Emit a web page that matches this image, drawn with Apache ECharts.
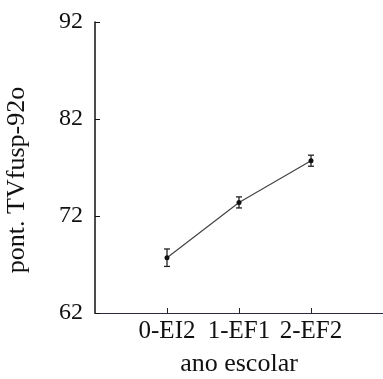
<!DOCTYPE html>
<html>
<head>
<meta charset="utf-8">
<script src="https://cdn.jsdelivr.net/npm/echarts@6/dist/echarts.min.js"></script>
<style>html,body{margin:0;padding:0;background:#fff}#main{width:383px;height:379px}</style>
</head>
<body>
<div id="main"></div>
<script>
// dados
var anos = ['0-EI2', '1-EF1', '2-EF2'];
var medias = [67.7, 73.4, 77.7];
var erros = [0.9, 0.57, 0.57];

var fonte = 'Liberation Serif';
var pontos = medias.map(function (v, i) { return [i, v]; });
var barras = medias.map(function (v, i) { return [i, v - erros[i], v + erros[i]]; });

var myChart = echarts.init(document.getElementById('main'));
var option = {
    animation: false,
    grid: { left: 95, right: 0, top: 22, bottom: 66, outerBoundsMode: 'none' },
    xAxis: {
        type: 'value',
        min: -1, max: 3, interval: 1,
        name: 'ano escolar',
        nameLocation: 'middle',
        nameGap: 38,
        nameTextStyle: { fontFamily: fonte, fontSize: 26, color: '#111' },
        splitLine: { show: false },
        axisLine: { onZero: false, lineStyle: { color: '#2a2a44', width: 1.2 } },
        axisTick: { inside: true, length: 5, customValues: [0, 1, 2], lineStyle: { color: '#222' } },
        axisLabel: {
            customValues: [0, 1, 2],
            margin: 6,
            fontFamily: fonte, fontSize: 25, color: '#111',
            formatter: function (v) { return anos[v] || ''; }
        }
    },
    yAxis: {
        type: 'value',
        min: 62, max: 92, interval: 10,
        name: 'pont. TVfusp-92o',
        nameLocation: 'middle',
        nameGap: 65,
        nameTextStyle: { fontFamily: fonte, fontSize: 26, color: '#111', padding: [0, 0, 0, -25] },
        splitLine: { show: false },
        axisLine: { show: true, onZero: false, lineStyle: { color: '#111', width: 1.5 } },
        axisTick: { inside: true, length: 5, lineStyle: { color: '#111' } },
        axisLabel: { margin: 12, fontFamily: fonte, fontSize: 24, color: '#111' }
    },
    series: [{
        type: 'line',
        data: pontos,
        symbol: 'circle',
        symbolSize: 5,
        itemStyle: { color: '#111' },
        lineStyle: { color: '#444', width: 1.2 }
    }, {
        type: 'custom',
        data: barras,
        renderItem: function (params, api) {
            var x = api.value(0);
            var lo = api.coord([x, api.value(1)]);
            var hi = api.coord([x, api.value(2)]);
            var c = 3;
            var st = { stroke: '#222', lineWidth: 1.3 };
            return {
                type: 'group',
                children: [
                    { type: 'line', shape: { x1: lo[0], y1: lo[1], x2: hi[0], y2: hi[1] }, style: st },
                    { type: 'line', shape: { x1: lo[0] - c, y1: lo[1], x2: lo[0] + c, y2: lo[1] }, style: st },
                    { type: 'line', shape: { x1: hi[0] - c, y1: hi[1], x2: hi[0] + c, y2: hi[1] }, style: st }
                ]
            };
        },
        z: 3
    }]
};
myChart.setOption(option);
</script>
</body>
</html>
